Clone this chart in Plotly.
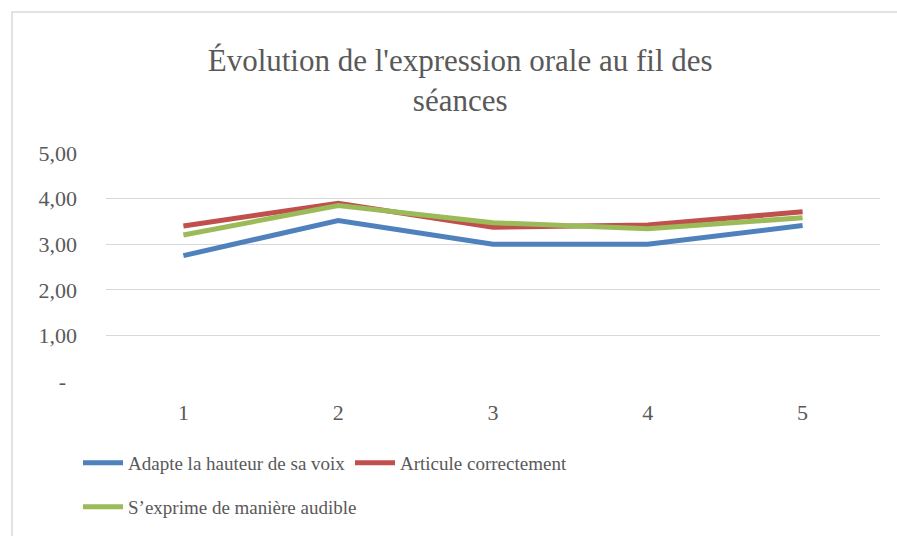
import plotly.graph_objects as go

seances = [1, 2, 3, 4, 5]
adapte_hauteur = [2.75, 3.52, 3.00, 3.00, 3.41]
articule = [3.40, 3.90, 3.37, 3.42, 3.71]
exprime_audible = [3.20, 3.85, 3.47, 3.34, 3.58]
y_tick_vals = [0, 1, 2, 3, 4, 5]
y_tick_text = ["-\u00a0\u00a0", "1,00", "2,00", "3,00", "4,00", "5,00"]

FONT = "Liberation Serif"
GRAY = "#595959"

L, R, T, B = 106, 17, 153, 155
PW = 897 - L - R
PH = 536 - T - B

fig = go.Figure()
series = [
    ("Adapte la hauteur de sa voix", adapte_hauteur, "#4F81BD", "legend"),
    ("Articule correctement", articule, "#C0504D", "legend"),
    ("S\u2019exprime de manière audible", exprime_audible, "#9BBB59", "legend2"),
]
for name, vals, col, lg in series:
    fig.add_trace(go.Scatter(x=seances, y=vals, name=name, mode="lines",
                             line=dict(color=col, width=5), legend=lg))

leg_common = dict(orientation="h", xanchor="left", yanchor="middle",
                  font=dict(size=19, color=GRAY, family=FONT),
                  entrywidthmode="pixels", itemwidth=40,
                  bgcolor="rgba(0,0,0,0)")

fig.update_layout(
    width=897, height=536,
    margin=dict(l=L, r=R, t=T, b=B, autoexpand=False),
    paper_bgcolor="white", plot_bgcolor="white",
    font=dict(family=FONT, color=GRAY, size=20),
    title=dict(text="Évolution de l'expression orale au fil des<br>séances",
               x=0.513, xanchor="center", y=0.868, yanchor="middle",
               font=dict(family=FONT, size=31, color=GRAY)),
    xaxis=dict(range=[0.5, 5.5], tickvals=seances, ticktext=[str(s) for s in seances],
               showgrid=False, zeroline=False, showline=False, ticks="",
               automargin=False, ticklabelstandoff=16,
               tickfont=dict(size=22, color=GRAY)),
    yaxis=dict(range=[0, 5], tickvals=y_tick_vals, ticktext=y_tick_text,
               showgrid=True, gridcolor="#D9D9D9", gridwidth=1.3, zeroline=False,
               showline=False, ticks="", automargin=False, ticklabelstandoff=28,
               tickfont=dict(size=22, color=GRAY)),
    showlegend=True,
    legend=dict(x=(78 - L) / PW, y=(381 - 463) / PH, entrywidth=217, **leg_common),
    legend2=dict(x=(78 - L) / PW, y=(381 - 507) / PH, entrywidth=320, **leg_common),
    shapes=[dict(type="rect", xref="paper", yref="paper",
                 x0=(12 - L) / PW, x1=(905 - L) / PW,
                 y0=(381 - 545) / PH, y1=(381 - 12) / PH,
                 line=dict(color="#D9D9D9", width=1.5), fillcolor="rgba(0,0,0,0)", layer="below")],
)

fig.write_html("out.html", config={"displayModeBar": False},
               post_script="document.body.style.margin='0';")
